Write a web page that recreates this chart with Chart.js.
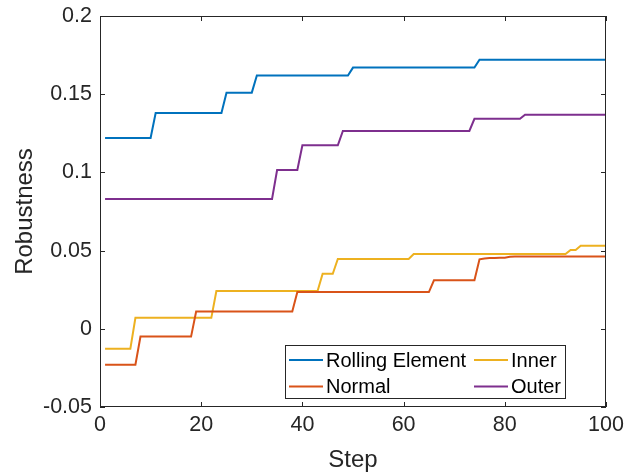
<!DOCTYPE html>
<html>
<head>
<meta charset="utf-8">
<script src="https://cdn.jsdelivr.net/npm/chart.js@4"></script>
<style>
  html, body { margin: 0; padding: 0; background: #fff; }
  #wrap { width: 625px; height: 474px; }
</style>
</head>
<body>
<div id="wrap"><canvas id="myChart" width="625" height="474"></canvas></div>
<script>
const steps = [
    1, 2, 3, 4, 5, 6, 7, 8, 9, 10,
    11, 12, 13, 14, 15, 16, 17, 18, 19, 20,
    21, 22, 23, 24, 25, 26, 27, 28, 29, 30,
    31, 32, 33, 34, 35, 36, 37, 38, 39, 40,
    41, 42, 43, 44, 45, 46, 47, 48, 49, 50,
    51, 52, 53, 54, 55, 56, 57, 58, 59, 60,
    61, 62, 63, 64, 65, 66, 67, 68, 69, 70,
    71, 72, 73, 74, 75, 76, 77, 78, 79, 80,
    81, 82, 83, 84, 85, 86, 87, 88, 89, 90,
    91, 92, 93, 94, 95, 96, 97, 98, 99, 100
];

const rollingElement = [
    0.122, 0.122, 0.122, 0.122, 0.122, 0.122, 0.122, 0.122, 0.122, 0.122,
    0.138, 0.138, 0.138, 0.138, 0.138, 0.138, 0.138, 0.138, 0.138, 0.138,
    0.138, 0.138, 0.138, 0.138, 0.151, 0.151, 0.151, 0.151, 0.151, 0.151,
    0.162, 0.162, 0.162, 0.162, 0.162, 0.162, 0.162, 0.162, 0.162, 0.162,
    0.162, 0.162, 0.162, 0.162, 0.162, 0.162, 0.162, 0.162, 0.162, 0.167,
    0.167, 0.167, 0.167, 0.167, 0.167, 0.167, 0.167, 0.167, 0.167, 0.167,
    0.167, 0.167, 0.167, 0.167, 0.167, 0.167, 0.167, 0.167, 0.167, 0.167,
    0.167, 0.167, 0.167, 0.167, 0.172, 0.172, 0.172, 0.172, 0.172, 0.172,
    0.172, 0.172, 0.172, 0.172, 0.172, 0.172, 0.172, 0.172, 0.172, 0.172,
    0.172, 0.172, 0.172, 0.172, 0.172, 0.172, 0.172, 0.172, 0.172, 0.172
];

const normal = [
    -0.023, -0.023, -0.023, -0.023, -0.023, -0.023, -0.023, -0.005, -0.005, -0.005,
    -0.005, -0.005, -0.005, -0.005, -0.005, -0.005, -0.005, -0.005, 0.011, 0.011,
    0.011, 0.011, 0.011, 0.011, 0.011, 0.011, 0.011, 0.011, 0.011, 0.011,
    0.011, 0.011, 0.011, 0.011, 0.011, 0.011, 0.011, 0.011, 0.0235, 0.0235,
    0.0235, 0.0235, 0.0235, 0.0235, 0.0235, 0.0235, 0.0235, 0.0235, 0.0235, 0.0235,
    0.0235, 0.0235, 0.0235, 0.0235, 0.0235, 0.0235, 0.0235, 0.0235, 0.0235, 0.0235,
    0.0235, 0.0235, 0.0235, 0.0235, 0.0235, 0.031, 0.031, 0.031, 0.031, 0.031,
    0.031, 0.031, 0.031, 0.031, 0.0444, 0.045, 0.0452, 0.0453, 0.0454, 0.0455,
    0.046, 0.0462, 0.0462, 0.0462, 0.0462, 0.0462, 0.0462, 0.0462, 0.0462, 0.0462,
    0.0462, 0.0462, 0.0462, 0.0462, 0.0462, 0.0462, 0.0462, 0.0462, 0.0462, 0.0462
];

const inner = [
    -0.0127, -0.0127, -0.0127, -0.0127, -0.0127, -0.0127, 0.007, 0.007, 0.007, 0.007,
    0.007, 0.007, 0.007, 0.007, 0.007, 0.007, 0.007, 0.007, 0.007, 0.007,
    0.007, 0.007, 0.0242, 0.0242, 0.0242, 0.0242, 0.0242, 0.0242, 0.0242, 0.0242,
    0.0242, 0.0242, 0.0242, 0.0242, 0.0242, 0.0242, 0.0242, 0.0242, 0.0242, 0.0242,
    0.0242, 0.0242, 0.0242, 0.0352, 0.0352, 0.0352, 0.0446, 0.0446, 0.0446, 0.0446,
    0.0446, 0.0446, 0.0446, 0.0446, 0.0446, 0.0446, 0.0446, 0.0446, 0.0446, 0.0446,
    0.0446, 0.0478, 0.0478, 0.0478, 0.0478, 0.0478, 0.0478, 0.0478, 0.0478, 0.0478,
    0.0478, 0.0478, 0.0478, 0.0478, 0.0478, 0.0478, 0.0478, 0.0478, 0.0478, 0.0478,
    0.0478, 0.0478, 0.0478, 0.0478, 0.0478, 0.0478, 0.0478, 0.0478, 0.0478, 0.0478,
    0.0478, 0.0478, 0.0504, 0.0504, 0.0531, 0.0531, 0.0531, 0.0531, 0.0531, 0.0531
];

const outer = [
    0.083, 0.083, 0.083, 0.083, 0.083, 0.083, 0.083, 0.083, 0.083, 0.083,
    0.083, 0.083, 0.083, 0.083, 0.083, 0.083, 0.083, 0.083, 0.083, 0.083,
    0.083, 0.083, 0.083, 0.083, 0.083, 0.083, 0.083, 0.083, 0.083, 0.083,
    0.083, 0.083, 0.083, 0.083, 0.1015, 0.1015, 0.1015, 0.1015, 0.1015, 0.1173,
    0.1173, 0.1173, 0.1173, 0.1173, 0.1173, 0.1173, 0.1173, 0.1265, 0.1265, 0.1265,
    0.1265, 0.1265, 0.1265, 0.1265, 0.1265, 0.1265, 0.1265, 0.1265, 0.1265, 0.1265,
    0.1265, 0.1265, 0.1265, 0.1265, 0.1265, 0.1265, 0.1265, 0.1265, 0.1265, 0.1265,
    0.1265, 0.1265, 0.1265, 0.1343, 0.1343, 0.1343, 0.1343, 0.1343, 0.1343, 0.1343,
    0.1343, 0.1343, 0.1343, 0.1369, 0.1369, 0.1369, 0.1369, 0.1369, 0.1369, 0.1369,
    0.1369, 0.1369, 0.1369, 0.1369, 0.1369, 0.1369, 0.1369, 0.1369, 0.1369, 0.1369
];

const seriesNames = ['Rolling Element', 'Normal', 'Inner', 'Outer'];
const seriesColors = ['#0072BD', '#D95319', '#EDB120', '#7E2F8E'];
const axisColor = '#262626';
const fontFamily = '"Liberation Sans", Arial, sans-serif';

// MATLAB-style box with inward ticks
const boxPlugin = {
    id: 'box',
    afterDraw(chart) {
        const {ctx, chartArea: a, scales} = chart;
        ctx.save();
        ctx.strokeStyle = axisColor;
        ctx.lineWidth = 1;
        ctx.strokeRect(Math.round(a.left) + 0.5, Math.round(a.top) + 0.5,
            Math.round(a.right - a.left) - 1, Math.round(a.bottom - a.top) - 1);
        ctx.beginPath();
        scales.x.ticks.forEach(t => {
            const px = Math.round(scales.x.getPixelForValue(t.value)) + 0.5;
            ctx.moveTo(px, a.bottom); ctx.lineTo(px, a.bottom - 5);
            ctx.moveTo(px, a.top); ctx.lineTo(px, a.top + 5);
        });
        scales.y.ticks.forEach(t => {
            const py = Math.round(scales.y.getPixelForValue(t.value)) + 0.5;
            ctx.moveTo(a.left, py); ctx.lineTo(a.left + 5, py);
            ctx.moveTo(a.right, py); ctx.lineTo(a.right - 5, py);
        });
        ctx.stroke();
        ctx.restore();
    }
};

// legend inside the axes, two columns filled top to bottom
const legendPlugin = {
    id: 'insideLegend',
    afterDraw(chart) {
        const ctx = chart.ctx;
        const bx = 285.5, by = 345.5, bw = 280, bh = 53;
        const colX = [289, 474];
        const rowY = [360, 386.5];
        ctx.save();
        ctx.fillStyle = '#fff';
        ctx.fillRect(bx, by, bw, bh);
        ctx.strokeStyle = axisColor;
        ctx.lineWidth = 1;
        ctx.strokeRect(bx, by, bw, bh);
        ctx.font = '20px ' + fontFamily;
        ctx.textBaseline = 'middle';
        chart.data.datasets.forEach((ds, i) => {
            const x = colX[Math.floor(i / 2)];
            const y = rowY[i % 2];
            ctx.strokeStyle = ds.borderColor;
            ctx.lineWidth = 2;
            ctx.beginPath();
            ctx.moveTo(x, y); ctx.lineTo(x + 34, y);
            ctx.stroke();
            ctx.fillStyle = '#000';
            ctx.fillText(ds.label, x + 37, y + 1);
        });
        ctx.restore();
    }
};

const ctx = document.getElementById('myChart').getContext('2d');
const myChart = new Chart(ctx, {
    type: 'line',
    data: {
        labels: steps,
        datasets: [rollingElement, normal, inner, outer].map((values, i) => ({
            label: seriesNames[i],
            data: values,
            borderColor: seriesColors[i],
            backgroundColor: seriesColors[i],
            borderWidth: 2,
            pointRadius: 0,
            tension: 0,
            fill: false
        }))
    },
    options: {
        responsive: false,
        animation: false,
        devicePixelRatio: 1,
        layout: { padding: { top: 16, right: 19, left: 0, bottom: 0 } },
        plugins: {
            legend: { display: false },
            tooltip: { enabled: false }
        },
        scales: {
            x: {
                type: 'linear',
                min: 0,
                max: 100,
                afterFit(scale) {
                    scale.height = 67;
                    scale.paddingLeft = 0;
                    scale.paddingRight = 0;
                },
                grid: { display: false, drawTicks: false },
                border: { display: false },
                ticks: {
                    stepSize: 20,
                    padding: 5,
                    maxRotation: 0,
                    color: axisColor,
                    font: { family: fontFamily, size: 21.5 }
                },
                title: {
                    display: true,
                    text: 'Step',
                    color: axisColor,
                    padding: { top: 0, bottom: -1 },
                    font: { family: fontFamily, size: 24, lineHeight: 1.2 }
                }
            },
            y: {
                min: -0.05,
                max: 0.2,
                afterFit(scale) {
                    scale.width = 100;
                    scale.paddingTop = 0;
                    scale.paddingBottom = 0;
                },
                grid: { display: false, drawTicks: false },
                border: { display: false },
                ticks: {
                    stepSize: 0.05,
                    padding: 8,
                    color: axisColor,
                    font: { family: fontFamily, size: 21.5 },
                    callback: v => String(Number(v.toFixed(2)))
                },
                title: {
                    display: true,
                    text: 'Robustness',
                    color: axisColor,
                    padding: { top: 11, bottom: 0 },
                    font: { family: fontFamily, size: 24, lineHeight: 1.2 }
                }
            }
        }
    },
    plugins: [boxPlugin, legendPlugin]
});
</script>
</body>
</html>
